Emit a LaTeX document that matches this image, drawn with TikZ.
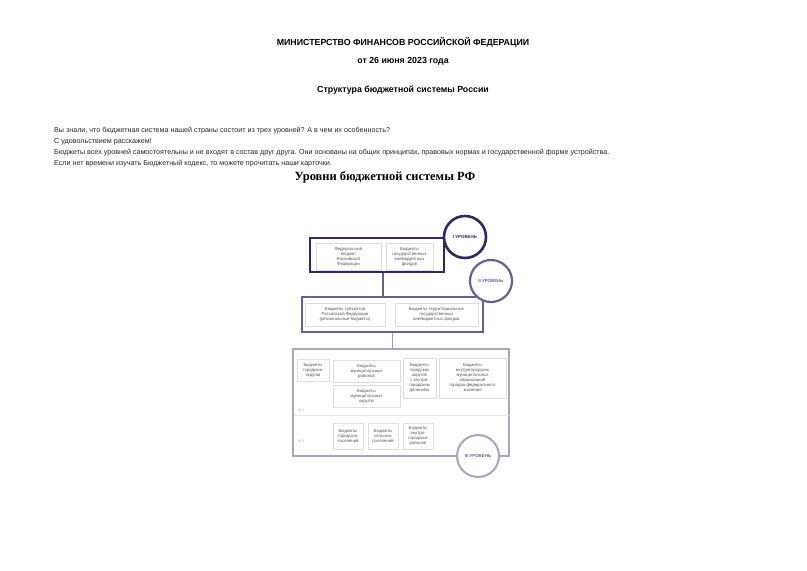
\documentclass[tikz,border=0pt]{standalone}
\usepackage{fontspec}
\setmainfont{Liberation Sans}
\newfontfamily\serifbold{Liberation Serif}
\definecolor{navy}{HTML}{2C2963}
\definecolor{midp}{HTML}{65628F}
\definecolor{lightp}{HTML}{A9A5C0}
\definecolor{boxgray}{HTML}{DDDDDD}
\definecolor{txtgray}{HTML}{555555}
\tikzset{
  hdr/.style={font=\fontsize{8.8}{10}\selectfont\bfseries, text=black},
  para/.style={font=\fontsize{7.15}{8}\selectfont, text=black!85, anchor=west, inner sep=0},
  inbox/.style={draw=boxgray, line width=0.6pt, fill=white, inner sep=0.5pt, align=center,
      font=\fontsize{4.3}{5}\selectfont, text=txtgray},
  lvlcircle/.style={circle, fill=white, minimum size=42pt, inner sep=0,
      font=\fontsize{4.4}{5}\selectfont\bfseries},
  sublbl/.style={font=\fontsize{3.6}{4}\selectfont, text=black!35, anchor=west, inner sep=0},
}
\begin{document}
\begin{tikzpicture}[x=1pt,y=-1pt]
\useasboundingbox (0,0) rectangle (807,571);
% header
\node[hdr] (h1) at (403,42) {МИНИСТЕРСТВО ФИНАНСОВ РОССИЙСКОЙ ФЕДЕРАЦИИ};
\node[hdr] (h2) at (403,61) {от 26 июня 2023 года};
\node[hdr] (h3) at (403,90) {Структура бюджетной системы России};
\node[para] (p1) at (54,131) {Вы знали, что бюджетная система нашей страны состоит из трех уровней? А в чем их особенность?};
\node[para] (p2) at (54,142) {С удовольствием расскажем!};
\node[para] (p3) at (54,153) {Бюджеты всех уровней самостоятельны и не входят в состав друг друга. Они основаны на общих принципах, правовых нормах и государственной форме устройства.};
\node[para] (p4) at (54,164) {Если нет времени изучать Бюджетный кодекс, то можете прочитать наши карточки.};
\node[font=\serifbold\fontsize{12.5}{14}\selectfont\bfseries] (title) at (385,177) {Уровни бюджетной системы РФ};

% level III
\node[draw=lightp, line width=2pt, minimum width=216pt, minimum height=107pt, inner sep=0] (L3) at (401,402.5) {};
\draw[boxgray!70, line width=0.6pt] ([xshift=1.5pt]L3.west |- 0,415) coordinate (sepL) -- ([xshift=-1.5pt]L3.east |- 0,415) coordinate (sepR);
\node[sublbl] (s1) at (298,410) {III.1};
\node[sublbl] (s2) at (298,441) {III.2};
\node[inbox, minimum width=32pt, minimum height=22pt] (a) at (313,370) {Бюджеты\\городских\\округов};
\node[inbox, minimum width=67pt, minimum height=22pt] (b) at (366.5,371) {Бюджеты\\муниципальных\\районов};
\node[inbox, minimum width=67pt, minimum height=22pt] (c) at (366.5,396) {Бюджеты\\муниципальных\\округов};
\node[inbox, minimum width=33pt, minimum height=40pt] (d) at (419.5,378) {Бюджеты\\городских\\округов\\с внутри-\\городским\\делением};
\node[inbox, minimum width=67pt, minimum height=40pt] (e) at (472.5,378) {Бюджеты\\внутригородских\\муниципальных\\образований\\городов федерального\\значения};
\node[inbox, minimum width=30pt, minimum height=26pt] (f) at (348,436) {Бюджеты\\городских\\поселений};
\node[inbox, minimum width=30pt, minimum height=26pt] (g) at (383,436) {Бюджеты\\сельских\\поселений};
\node[inbox, minimum width=30pt, minimum height=26pt] (hh) at (418,436) {Бюджеты\\внутри-\\городских\\районов};

% level II
\node[draw=midp, line width=2.2pt, fill=white, minimum width=181pt, minimum height=35pt, inner sep=0] (L2) at (392.5,314.5) {};
\node[inbox, minimum width=80pt, minimum height=23pt] (r1) at (345,314.5) {Бюджеты субъектов\\Российской Федерации\\(региональные бюджеты)};
\node[inbox, minimum width=83pt, minimum height=23pt] (r2) at (436.5,314.5) {Бюджеты территориальных\\государственных\\внебюджетных фондов};

% level I
\node[draw=navy, line width=2.6pt, fill=white, minimum width=134pt, minimum height=34pt, inner sep=0] (L1) at (377,255) {};
\node[inbox, minimum width=65pt, minimum height=27pt] (fed) at (348.5,256.5) {Федеральный\\бюджет\\Российской\\Федерации};
\node[inbox, minimum width=47pt, minimum height=27pt] (gvf) at (409.5,256.5) {Бюджеты\\государственных\\внебюджетных\\фондов};

% connectors
\draw[midp, line width=1.6pt] ([xshift=6pt]L1.south) -- ([xshift=6pt]L1.south |- L2.north);
\draw[lightp!80!midp, line width=1.6pt] (L2.south) -- (L2.south |- L3.north);

% circles
\node[lvlcircle, draw=navy, line width=2.6pt, text=navy] (c1) at (465,237) {I УРОВЕНЬ};
\node[lvlcircle, draw=midp, line width=2.2pt, text=midp] (c2) at (491,281) {II УРОВЕНЬ};
\node[lvlcircle, draw=lightp, line width=2pt, text=midp] (c3) at (478,456) {III УРОВЕНЬ};
\end{tikzpicture}
\end{document}
